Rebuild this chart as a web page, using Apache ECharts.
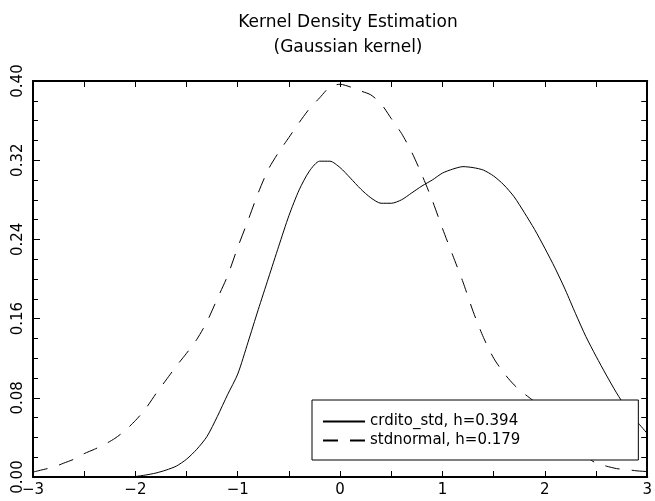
<!DOCTYPE html>
<html>
<head>
<meta charset="utf-8">
<script src="https://cdn.jsdelivr.net/npm/echarts@6/dist/echarts.min.js"></script>
<style>
  html, body { margin: 0; padding: 0; background: #fff; }
  #chart { width: 655px; height: 501px; }
</style>
</head>
<body>
<div id="chart"></div>
<script>
// x grid of the kernel estimates
const xValues = [
  -3.0, -2.9, -2.8, -2.7, -2.6, -2.5, -2.4, -2.3, -2.2, -2.1,
  -2.0, -1.9, -1.8, -1.7, -1.6, -1.5, -1.4, -1.3, -1.2, -1.1,
  -1.0, -0.9, -0.8, -0.7, -0.6, -0.5, -0.4, -0.3, -0.2, -0.1,
  0.0, 0.1, 0.2, 0.3, 0.4, 0.5, 0.6, 0.7, 0.8, 0.9,
  1.0, 1.1, 1.2, 1.3, 1.4, 1.5, 1.6, 1.7, 1.8, 1.9,
  2.0, 2.1, 2.2, 2.3, 2.4, 2.5, 2.6, 2.7, 2.8, 2.9, 3.0
]
// crdito_std, h=0.394
const crditoStd = [
  0, 0, 0, 0, 0, 0, 0, 0, 0, 0,
  0.0005, 0.002, 0.004, 0.007, 0.011, 0.018, 0.028, 0.041, 0.061, 0.083,
  0.104, 0.136, 0.169, 0.201, 0.233, 0.264, 0.290, 0.309, 0.319, 0.319,
  0.3125, 0.302, 0.291, 0.282, 0.2765, 0.2765, 0.280, 0.287, 0.294, 0.300,
  0.307, 0.311, 0.3135, 0.3125, 0.310, 0.304, 0.295, 0.283, 0.267, 0.250,
  0.231, 0.211, 0.189, 0.165, 0.142, 0.122, 0.103, 0.085, 0.069, 0.056, 0.044
]
// stdnormal, h=0.179
const stdNormal = [
  0.005, 0.0075, 0.010, 0.014, 0.018, 0.0236, 0.028, 0.033, 0.039, 0.047,
  0.057, 0.069, 0.084, 0.098, 0.112, 0.125, 0.139, 0.157, 0.180, 0.203,
  0.232, 0.259, 0.287, 0.311, 0.328, 0.343, 0.358, 0.372, 0.383, 0.394,
  0.3967, 0.394, 0.390, 0.386, 0.377, 0.362, 0.347, 0.328, 0.305, 0.2795,
  0.251, 0.224, 0.197, 0.167, 0.141, 0.120, 0.105, 0.093, 0.084, 0.076,
  0.066, 0.055, 0.043, 0.031, 0.021, 0.014, 0.011, 0.0085, 0.0075, 0.0062, 0.0055
]
const seriesNames = ['crdito_std, h=0.394', 'stdnormal, h=0.179']

const font = 'DejaVu Sans'
const pairs = (ys) => xValues.map((x, i) => [x, ys[i]])

const chart = echarts.init(document.getElementById('chart'))
const tickStyle = { color: '#000', width: 1 }
const frameLine = { onZero: false, lineStyle: { color: '#000', width: 2 } }
const option = {
  animation: false,
  backgroundColor: '#fff',
  title: {
    text: 'Kernel Density Estimation\n(Gaussian kernel)',
    left: 343,
    top: 5,
    textAlign: 'center',
    textStyle: {
      fontFamily: font,
      fontSize: 17,
      fontWeight: 'normal',
      color: '#000',
      lineHeight: 25
    }
  },
  legend: {
    orient: 'vertical',
    left: 312,
    top: 400,
    data: seriesNames,
    selectedMode: false,
    backgroundColor: '#fff',
    borderColor: '#000',
    borderWidth: 1,
    padding: [14, 118, 12, 10],
    itemWidth: 42,
    itemHeight: 14,
    itemGap: 4,
    itemStyle: { color: 'rgba(0,0,0,0)', borderWidth: 0, opacity: 0 },
    textStyle: { fontFamily: font, fontSize: 15, color: '#000' }
  },
  grid: { left: 33, right: 1, top: 81, bottom: 24 },
  xAxis: [
    {
      type: 'value',
      position: 'bottom',
      min: -3,
      max: 3,
      interval: 0.5,
      splitLine: { show: false },
      axisLine: frameLine,
      axisTick: { inside: true, length: 6, lineStyle: tickStyle },
      axisLabel: {
        fontFamily: font,
        fontSize: 15,
        color: '#000',
        margin: 6,
        formatter: (v) => (Math.abs(v % 1) < 1e-9 ? String(v).replace('-', '\u2212') : '')
      }
    },
    {
      type: 'value',
      position: 'top',
      min: -3,
      max: 3,
      interval: 0.5,
      splitLine: { show: false },
      axisLine: frameLine,
      axisTick: { inside: true, length: 6, lineStyle: tickStyle },
      axisLabel: { show: false }
    }
  ],
  yAxis: [
    {
      type: 'value',
      position: 'left',
      min: 0,
      max: 0.4,
      interval: 0.08,
      splitLine: { show: false },
      axisLine: frameLine,
      axisTick: { inside: true, length: 7, lineStyle: tickStyle },
      minorTick: { show: true, splitNumber: 4, length: 5, lineStyle: tickStyle },
      axisLabel: {
        fontFamily: font,
        fontSize: 15,
        color: '#000',
        rotate: 90,
        margin: 7,
        formatter: (v) => v.toFixed(2)
      }
    },
    {
      type: 'value',
      position: 'right',
      min: 0,
      max: 0.4,
      interval: 0.02,
      splitLine: { show: false },
      axisLine: frameLine,
      axisTick: { inside: true, length: 6, lineStyle: tickStyle },
      axisLabel: { show: false }
    }
  ],
  series: [
    {
      name: seriesNames[0],
      type: 'line',
      data: pairs(crditoStd),
      showSymbol: false,
      symbol: 'none',
      smooth: 0.25,
      color: '#000',
      lineStyle: { color: '#000', width: 1 }
    },
    {
      name: seriesNames[1],
      type: 'line',
      data: pairs(stdNormal),
      showSymbol: false,
      symbol: 'none',
      smooth: 0.25,
      color: '#000',
      lineStyle: { color: '#000', width: 1, type: [15, 12] }
    }
  ]
}
chart.setOption(option)
</script>
</body>
</html>
